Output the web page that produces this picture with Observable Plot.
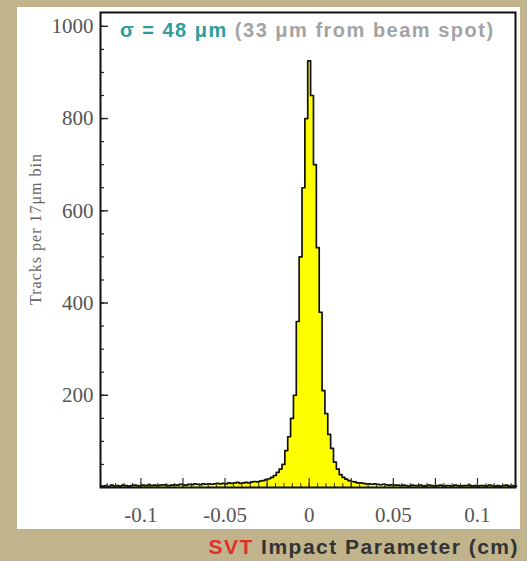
<!DOCTYPE html>
<html><head><meta charset="utf-8">
<script src="https://cdn.jsdelivr.net/npm/d3@7"></script>
<script src="https://cdn.jsdelivr.net/npm/@observablehq/plot@0.6"></script>
<style>
html,body{margin:0;padding:0;width:527px;height:561px;overflow:hidden;background:#c1b38b;}
#panel{position:absolute;left:17px;top:7px;width:503px;height:522px;background:#fff;}
#chart{position:absolute;left:0;top:0;}
#note{position:absolute;left:120px;top:19px;font:bold 20px "Liberation Sans",Arial,sans-serif;letter-spacing:1.5px;white-space:nowrap;}
#caption{position:absolute;right:8px;top:535px;font:bold 21px "Liberation Sans",Arial,sans-serif;letter-spacing:1.5px;color:#333;white-space:nowrap;}
</style></head><body>
<div id="panel"></div>
<div id="chart"></div>
<div id="note"><span style="color:#2e9c9c">σ = 48 μm</span> <span style="color:#a3a3a3">(33 μm from beam spot)</span></div>
<div id="caption"><span style="color:#e0302a">SVT</span> Impact Parameter (cm)</div>
<script>
// histogram: 17 µm bins, first bin lower edge
const binWidth = 0.0017;
const binLow = -0.12325;
const counts = [
  3,4,2,5,3,4,3,5,4,3,4,5,
  4,3,5,4,6,4,5,4,5,6,5,4,
  5,6,5,7,6,5,7,6,8,7,6,8,
  7,8,7,8,9,8,9,8,10,9,10,11,
  9,10,11,10,12,13,12,14,15,17,
  19,22,26,33,40,50,
  80,110,150,200,360,500,650,800,
  925,
  850,700,520,380,210,160,115,85,
  55,40,28,22,18,15,13,12,10,10,9,8,
  8,7,8,7,6,7,6,5,6,5,
  5,4,5,4,3,5,4,4,5,3,4,5,4,3,4,5,3,4,4,3,5,4,3,4,4,5,3,4,3,4,4,3,5,4,3,4,3,4,5,3,4,3
];
const xTickValues = [-0.1, -0.05, 0, 0.05, 0.1];
const xTickText = ["-0.1", "-0.05", "0", "0.05", "0.1"];
const yTickValues = [200, 400, 600, 800, 1000];
const yTickText = ["200", "400", "600", "800", "1000"];
const yTitle = "Tracks per 17μm bin";

const steps = counts.flatMap((c, i) => [
  {x: binLow + i * binWidth, y: c},
  {x: binLow + (i + 1) * binWidth, y: c}
]);
const xMinor = d3.range(-0.12, 0.1201, 0.005).map(v => +v.toFixed(3));
const xMajor = d3.range(-0.1, 0.1001, 0.025).map(v => +v.toFixed(3));
const yMinor = d3.range(50, 1001, 50);

const chart = Plot.plot({
  width: 527, height: 561,
  marginLeft: 100, marginRight: 12, marginTop: 12, marginBottom: 74,
  x: {domain: [-0.124, 0.1226]},
  y: {domain: [0, 1030]},
  style: {background: "transparent", fontFamily: "'Liberation Serif', serif", fontSize: "21px", color: "#555", overflow: "visible"},
  marks: [
    Plot.areaY(steps, {x: "x", y1: 0, y2: "y", fill: "#ffff00"}),
    Plot.line(steps, {x: "x", y: "y", stroke: "#111", strokeWidth: 1.7}),
    Plot.tickY(yMinor, {y: d => d, insetRight: 411, stroke: "#222", strokeWidth: 1.2}),
    Plot.tickY(yTickValues, {y: d => d, insetRight: 407, stroke: "#222", strokeWidth: 1.4}),
    Plot.tickX(xMinor, {x: d => d, insetTop: 471, stroke: "#333", strokeWidth: 1}),
    Plot.tickX(xMajor, {x: d => d, insetTop: 466, stroke: "#333", strokeWidth: 1.2}),
    Plot.axisY({ticks: yTickValues, tickSize: 0, tickPadding: 7, label: null, fill: "#555",
      tickFormat: d => yTickText[yTickValues.indexOf(d)]}),
    Plot.axisX({ticks: xTickValues, tickSize: 0, tickPadding: 20, label: null, fill: "#555",
      tickFormat: d => xTickText[xTickValues.indexOf(d)]}),
    Plot.frame({stroke: "#111", strokeWidth: 2}),
    Plot.text([yTitle], {frameAnchor: "left", textAnchor: "middle", dx: -65, dy: -21, rotate: -90, fontSize: 16, fill: "#666"})
  ]
});
chart.querySelectorAll("text").forEach(t => { if (t.textContent === yTitle) t.setAttribute("letter-spacing", "1"); });
document.getElementById("chart").appendChild(chart);
</script>
</body></html>
